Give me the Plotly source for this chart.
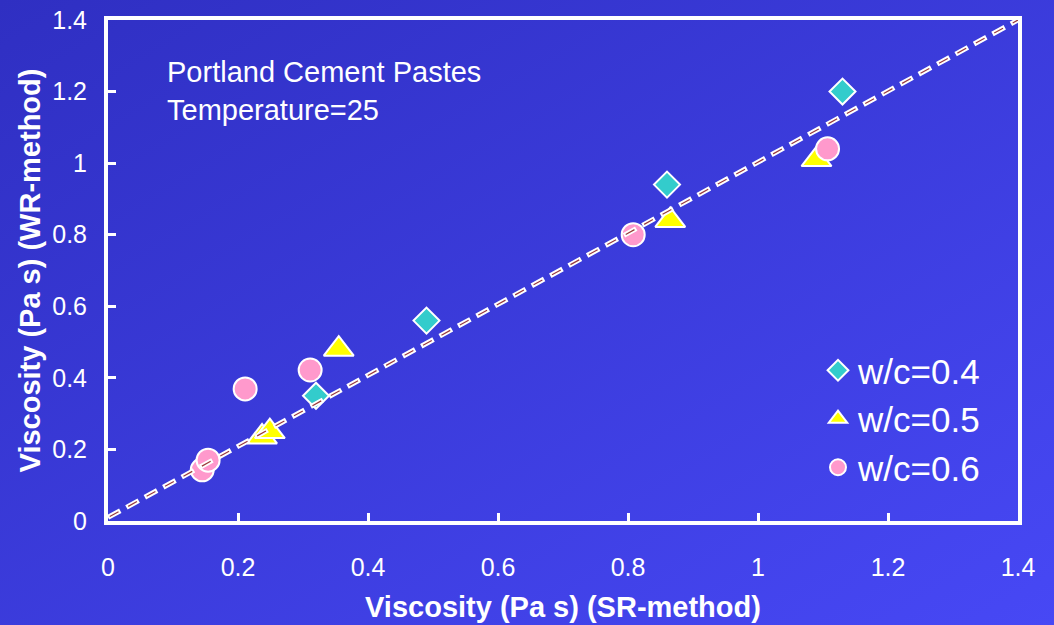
import base64
import plotly.graph_objects as go

# ---- data ----
wc04_x = [0.32, 0.49, 0.86, 1.13]
wc04_y = [0.35, 0.56, 0.94, 1.20]
wc05_x = [0.237, 0.249, 0.355, 0.865, 1.09]
wc05_y = [0.235, 0.25, 0.48, 0.84, 1.01]
wc06_x = [0.145, 0.154, 0.211, 0.311, 0.808, 1.107]
wc06_y = [0.143, 0.17, 0.369, 0.422, 0.80, 1.04]
line_x = [0.0, 1.4]
line_y = [0.01, 1.4]
ticks = [0, 0.2, 0.4, 0.6, 0.8, 1.0, 1.2, 1.4]
tick_text = ["0", "0.2", "0.4", "0.6", "0.8", "1", "1.2", "1.4"]

W, H = 1054, 625
ML, MR, MT, MB = 108, 36, 20, 104
PW, PH = W - ML - MR, H - MT - MB

svg = ('<svg xmlns="http://www.w3.org/2000/svg" width="1054" height="625" preserveAspectRatio="none">'
       '<defs><linearGradient id="g" x1="0" y1="0" x2="1" y2="1">'
       '<stop offset="0" stop-color="#2f2fc2"/><stop offset="1" stop-color="#4748f5"/>'
       '</linearGradient></defs><rect width="1054" height="625" fill="url(#g)"/></svg>')
bg = "data:image/svg+xml;base64," + base64.b64encode(svg.encode()).decode()

fig = go.Figure()
fig.add_trace(go.Scatter(x=wc04_x, y=wc04_y, mode="markers", name="w/c=0.4",
                         marker=dict(symbol="diamond", size=20, color="#33CCCC",
                                     line=dict(color="white", width=2))))
fig.add_trace(go.Scatter(x=wc05_x, y=wc05_y, mode="markers", name="w/c=0.5",
                         marker=dict(symbol="triangle-up", size=26, color="#FFFF00",
                                     line=dict(color="white", width=2))))
fig.add_trace(go.Scatter(x=wc06_x, y=wc06_y, mode="markers", name="w/c=0.6",
                         marker=dict(symbol="circle", size=23, color="#FF99CC",
                                     line=dict(color="white", width=2))))
fig.add_trace(go.Scatter(x=line_x, y=line_y, mode="lines", showlegend=False,
                         line=dict(color="white", width=5, dash="14px,7px")))
fig.add_trace(go.Scatter(x=line_x, y=line_y, mode="lines", showlegend=False,
                         line=dict(color="#9a3a3a", width=1.2, dash="0px,2px,10px,9px")))

axis_common = dict(
    range=[0, 1.4], tickvals=ticks, ticktext=tick_text,
    showgrid=False, zeroline=False, showline=True, linecolor="white", linewidth=4,
    mirror=True, ticks="inside", ticklen=8, tickwidth=3, tickcolor="white",
    tickfont=dict(family="Liberation Sans, Arial", size=25, color="white"),
    fixedrange=True,
)
fig.update_xaxes(**axis_common, ticklabelstandoff=21,
                 title=dict(text="<b>Viscosity (Pa s) (SR-method)</b>", standoff=18,
                            font=dict(family="Liberation Sans, Arial", size=29, color="white")))
fig.update_yaxes(**axis_common, ticklabelstandoff=12,
                 title=dict(text="<b>Viscosity (Pa s) (WR-method)</b>", standoff=4,
                            font=dict(family="Liberation Sans, Arial", size=29, color="white")))

fig.update_layout(
    width=W, height=H,
    margin=dict(l=ML, r=MR, t=MT, b=MB, autoexpand=False),
    paper_bgcolor="#3b3be0", plot_bgcolor="rgba(0,0,0,0)",
    images=[dict(source=bg, xref="paper", yref="paper",
                 x=-ML / PW, y=1 + MT / PH, sizex=W / PW, sizey=H / PH,
                 xanchor="left", yanchor="top", sizing="stretch", layer="below")],
    legend=dict(x=(818 - ML) / PW, y=(521 - 341) / PH, xanchor="left", yanchor="top",
                bgcolor="rgba(0,0,0,0)", borderwidth=0,
                font=dict(family="Liberation Sans, Arial", size=35, color="white"),
                tracegroupgap=0),
    annotations=[dict(text="Portland Cement Pastes<br>Temperature=25",
                      xref="paper", yref="paper", x=(165 - ML) / PW, y=(521 - 54) / PH,
                      xanchor="left", yanchor="top", align="left", showarrow=False,
                      font=dict(family="Liberation Sans, Arial", size=29, color="white"))],
    showlegend=True,
)

fig.write_html("out.html")
